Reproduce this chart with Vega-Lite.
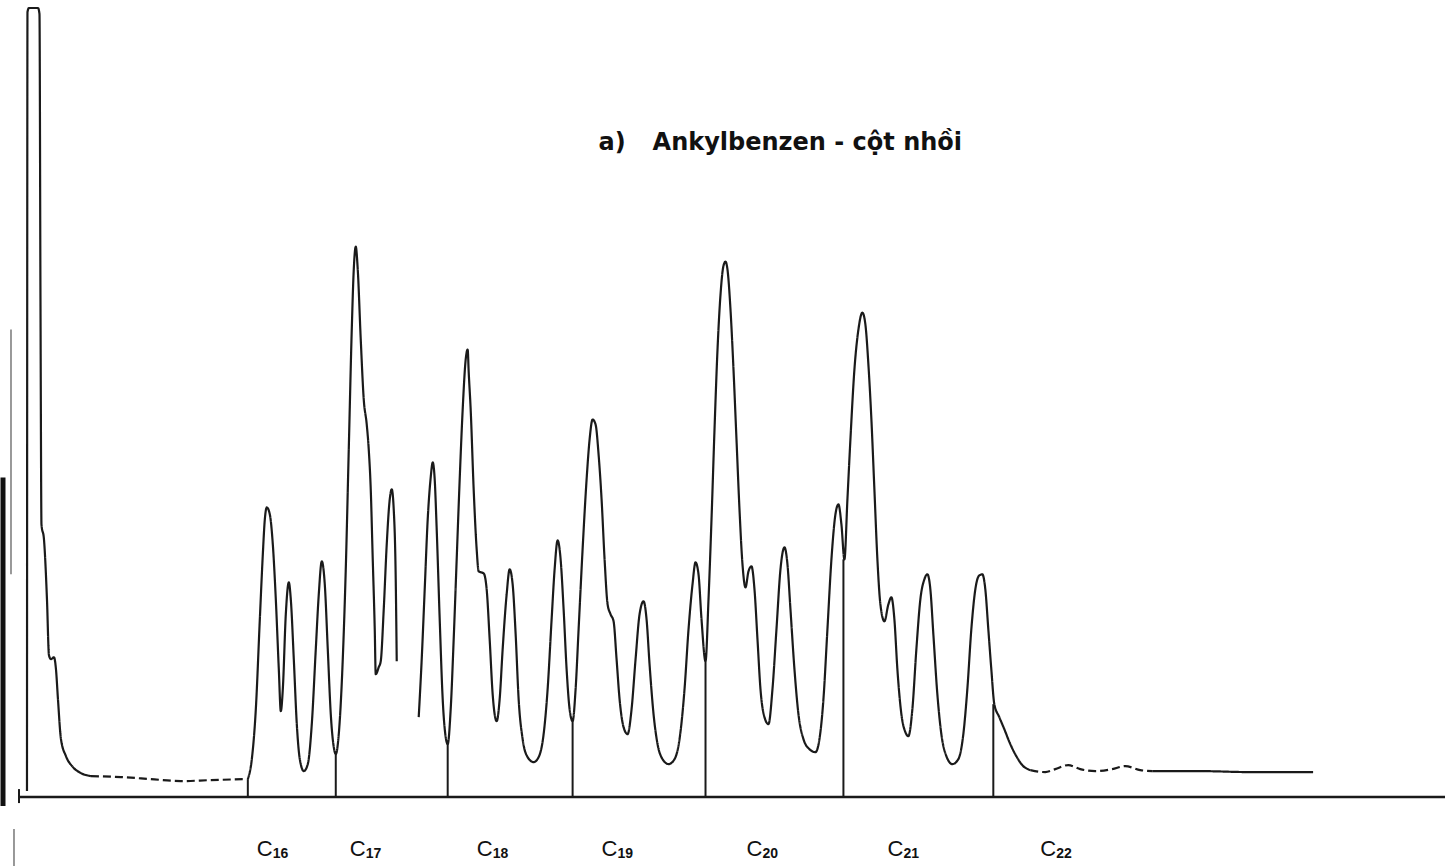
{
  "$schema": "https://vega.github.io/schema/vega-lite/v6.json",
  "width": 1455,
  "height": 867,
  "autosize": {"type": "fit", "contains": "padding"},
  "padding": 0,
  "background": "white",
  "config": {"view": {"stroke": null}},
  "datasets": {
    "trace": [
      {"seg": "solvent", "pen": "solid", "t": 26, "s": 6},
      {"seg": "solvent", "pen": "solid", "t": 26.5, "s": 786},
      {"seg": "solvent", "pen": "solid", "t": 28, "s": 790},
      {"seg": "solvent", "pen": "solid", "t": 37, "s": 790},
      {"seg": "solvent", "pen": "solid", "t": 38.5, "s": 784},
      {"seg": "solvent", "pen": "solid", "t": 39.5, "s": 498},
      {"seg": "solvent", "pen": "solid", "t": 40.5, "s": 273},
      {"seg": "solvent", "pen": "solid", "t": 43, "s": 258},
      {"seg": "solvent", "pen": "solid", "t": 46, "s": 198},
      {"seg": "solvent", "pen": "solid", "t": 48, "s": 142},
      {"seg": "solvent", "pen": "solid", "t": 50, "s": 138},
      {"seg": "solvent", "pen": "solid", "t": 53, "s": 140},
      {"seg": "solvent", "pen": "solid", "t": 55, "s": 128},
      {"seg": "solvent", "pen": "solid", "t": 57, "s": 98},
      {"seg": "solvent", "pen": "solid", "t": 60, "s": 58},
      {"seg": "solvent", "pen": "solid", "t": 65, "s": 41},
      {"seg": "solvent", "pen": "solid", "t": 72, "s": 30},
      {"seg": "solvent", "pen": "solid", "t": 80, "s": 24},
      {"seg": "solvent", "pen": "solid", "t": 90, "s": 21},
      {"seg": "base1", "pen": "dashed", "t": 90, "s": 21},
      {"seg": "base1", "pen": "dashed", "t": 120, "s": 20},
      {"seg": "base1", "pen": "dashed", "t": 150, "s": 18},
      {"seg": "base1", "pen": "dashed", "t": 180, "s": 16},
      {"seg": "base1", "pen": "dashed", "t": 210, "s": 17},
      {"seg": "base1", "pen": "dashed", "t": 245, "s": 18},
      {"seg": "p1", "pen": "solid", "t": 247, "s": 18},
      {"seg": "p1", "pen": "solid", "t": 251, "s": 38},
      {"seg": "p1", "pen": "solid", "t": 255, "s": 88},
      {"seg": "p1", "pen": "solid", "t": 259, "s": 178},
      {"seg": "p1", "pen": "solid", "t": 262, "s": 243},
      {"seg": "p1", "pen": "solid", "t": 264, "s": 278},
      {"seg": "p1", "pen": "solid", "t": 266, "s": 290},
      {"seg": "p1", "pen": "solid", "t": 269, "s": 283},
      {"seg": "p1", "pen": "solid", "t": 272, "s": 253},
      {"seg": "p1", "pen": "solid", "t": 275, "s": 198},
      {"seg": "p1", "pen": "solid", "t": 278, "s": 128},
      {"seg": "p1", "pen": "solid", "t": 280, "s": 86},
      {"seg": "p1", "pen": "solid", "t": 282, "s": 108},
      {"seg": "p1", "pen": "solid", "t": 285, "s": 183},
      {"seg": "p1", "pen": "solid", "t": 288, "s": 215},
      {"seg": "p1", "pen": "solid", "t": 290, "s": 198},
      {"seg": "p1", "pen": "solid", "t": 293, "s": 138},
      {"seg": "p1", "pen": "solid", "t": 296, "s": 73},
      {"seg": "p1", "pen": "solid", "t": 299, "s": 38},
      {"seg": "p1", "pen": "solid", "t": 303, "s": 26},
      {"seg": "p1", "pen": "solid", "t": 307, "s": 33},
      {"seg": "p1", "pen": "solid", "t": 311, "s": 73},
      {"seg": "p1", "pen": "solid", "t": 315, "s": 148},
      {"seg": "p1", "pen": "solid", "t": 318, "s": 203},
      {"seg": "p1", "pen": "solid", "t": 321, "s": 236},
      {"seg": "p1", "pen": "solid", "t": 324, "s": 213},
      {"seg": "p1", "pen": "solid", "t": 327, "s": 148},
      {"seg": "p1", "pen": "solid", "t": 330, "s": 83},
      {"seg": "p1", "pen": "solid", "t": 333, "s": 50},
      {"seg": "p1", "pen": "solid", "t": 335, "s": 43},
      {"seg": "p1", "pen": "solid", "t": 338, "s": 63},
      {"seg": "p1", "pen": "solid", "t": 342, "s": 138},
      {"seg": "p1", "pen": "solid", "t": 345, "s": 228},
      {"seg": "p1", "pen": "solid", "t": 348, "s": 348},
      {"seg": "p1", "pen": "solid", "t": 351, "s": 468},
      {"seg": "p1", "pen": "solid", "t": 353, "s": 528},
      {"seg": "p1", "pen": "solid", "t": 355, "s": 551},
      {"seg": "p1", "pen": "solid", "t": 357, "s": 528},
      {"seg": "p1", "pen": "solid", "t": 360, "s": 458},
      {"seg": "p1", "pen": "solid", "t": 363, "s": 398},
      {"seg": "p1", "pen": "solid", "t": 366, "s": 373},
      {"seg": "p1", "pen": "solid", "t": 368, "s": 348},
      {"seg": "p1", "pen": "solid", "t": 370, "s": 308},
      {"seg": "p1", "pen": "solid", "t": 372, "s": 238},
      {"seg": "p1", "pen": "solid", "t": 374, "s": 168},
      {"seg": "p1", "pen": "solid", "t": 375, "s": 123},
      {"seg": "p1", "pen": "solid", "t": 378, "s": 130},
      {"seg": "p1", "pen": "solid", "t": 380, "s": 136},
      {"seg": "p1", "pen": "solid", "t": 383, "s": 188},
      {"seg": "p1", "pen": "solid", "t": 386, "s": 253},
      {"seg": "p1", "pen": "solid", "t": 389, "s": 298},
      {"seg": "p1", "pen": "solid", "t": 391, "s": 308},
      {"seg": "p1", "pen": "solid", "t": 393, "s": 288},
      {"seg": "p1", "pen": "solid", "t": 395, "s": 218},
      {"seg": "p1", "pen": "solid", "t": 396, "s": 136},
      {"seg": "p2", "pen": "solid", "t": 418, "s": 80},
      {"seg": "p2", "pen": "solid", "t": 421, "s": 138},
      {"seg": "p2", "pen": "solid", "t": 424, "s": 208},
      {"seg": "p2", "pen": "solid", "t": 427, "s": 278},
      {"seg": "p2", "pen": "solid", "t": 430, "s": 320},
      {"seg": "p2", "pen": "solid", "t": 432, "s": 335},
      {"seg": "p2", "pen": "solid", "t": 434, "s": 318},
      {"seg": "p2", "pen": "solid", "t": 436, "s": 268},
      {"seg": "p2", "pen": "solid", "t": 439, "s": 178},
      {"seg": "p2", "pen": "solid", "t": 442, "s": 98},
      {"seg": "p2", "pen": "solid", "t": 445, "s": 60},
      {"seg": "p2", "pen": "solid", "t": 447, "s": 53},
      {"seg": "p2", "pen": "solid", "t": 450, "s": 88},
      {"seg": "p2", "pen": "solid", "t": 453, "s": 158},
      {"seg": "p2", "pen": "solid", "t": 456, "s": 238},
      {"seg": "p2", "pen": "solid", "t": 459, "s": 318},
      {"seg": "p2", "pen": "solid", "t": 462, "s": 388},
      {"seg": "p2", "pen": "solid", "t": 465, "s": 438},
      {"seg": "p2", "pen": "solid", "t": 467, "s": 448},
      {"seg": "p2", "pen": "solid", "t": 468, "s": 426},
      {"seg": "p2", "pen": "solid", "t": 470, "s": 388},
      {"seg": "p2", "pen": "solid", "t": 473, "s": 308},
      {"seg": "p2", "pen": "solid", "t": 476, "s": 248},
      {"seg": "p2", "pen": "solid", "t": 478, "s": 226},
      {"seg": "p2", "pen": "solid", "t": 483, "s": 224},
      {"seg": "p2", "pen": "solid", "t": 486, "s": 208},
      {"seg": "p2", "pen": "solid", "t": 489, "s": 158},
      {"seg": "p2", "pen": "solid", "t": 492, "s": 103},
      {"seg": "p2", "pen": "solid", "t": 496, "s": 76},
      {"seg": "p2", "pen": "solid", "t": 499, "s": 98},
      {"seg": "p2", "pen": "solid", "t": 502, "s": 148},
      {"seg": "p2", "pen": "solid", "t": 506, "s": 203},
      {"seg": "p2", "pen": "solid", "t": 509, "s": 228},
      {"seg": "p2", "pen": "solid", "t": 512, "s": 213},
      {"seg": "p2", "pen": "solid", "t": 515, "s": 163},
      {"seg": "p2", "pen": "solid", "t": 518, "s": 98},
      {"seg": "p2", "pen": "solid", "t": 522, "s": 58},
      {"seg": "p2", "pen": "solid", "t": 527, "s": 40},
      {"seg": "p2", "pen": "solid", "t": 533, "s": 35},
      {"seg": "p2", "pen": "solid", "t": 538, "s": 40},
      {"seg": "p2", "pen": "solid", "t": 543, "s": 63},
      {"seg": "p2", "pen": "solid", "t": 547, "s": 108},
      {"seg": "p2", "pen": "solid", "t": 551, "s": 178},
      {"seg": "p2", "pen": "solid", "t": 554, "s": 228},
      {"seg": "p2", "pen": "solid", "t": 557, "s": 257},
      {"seg": "p2", "pen": "solid", "t": 560, "s": 238},
      {"seg": "p2", "pen": "solid", "t": 563, "s": 188},
      {"seg": "p2", "pen": "solid", "t": 566, "s": 128},
      {"seg": "p2", "pen": "solid", "t": 569, "s": 88},
      {"seg": "p2", "pen": "solid", "t": 572, "s": 76},
      {"seg": "p2", "pen": "solid", "t": 575, "s": 108},
      {"seg": "p2", "pen": "solid", "t": 578, "s": 168},
      {"seg": "p2", "pen": "solid", "t": 582, "s": 248},
      {"seg": "p2", "pen": "solid", "t": 586, "s": 318},
      {"seg": "p2", "pen": "solid", "t": 589, "s": 358},
      {"seg": "p2", "pen": "solid", "t": 592, "s": 378},
      {"seg": "p2", "pen": "solid", "t": 595, "s": 373},
      {"seg": "p2", "pen": "solid", "t": 598, "s": 343},
      {"seg": "p2", "pen": "solid", "t": 601, "s": 298},
      {"seg": "p2", "pen": "solid", "t": 604, "s": 238},
      {"seg": "p2", "pen": "solid", "t": 607, "s": 193},
      {"seg": "p2", "pen": "solid", "t": 610, "s": 183},
      {"seg": "p2", "pen": "solid", "t": 613, "s": 176},
      {"seg": "p2", "pen": "solid", "t": 616, "s": 138},
      {"seg": "p2", "pen": "solid", "t": 619, "s": 98},
      {"seg": "p2", "pen": "solid", "t": 623, "s": 70},
      {"seg": "p2", "pen": "solid", "t": 627, "s": 63},
      {"seg": "p2", "pen": "solid", "t": 631, "s": 88},
      {"seg": "p2", "pen": "solid", "t": 635, "s": 138},
      {"seg": "p2", "pen": "solid", "t": 639, "s": 183},
      {"seg": "p2", "pen": "solid", "t": 643, "s": 196},
      {"seg": "p2", "pen": "solid", "t": 646, "s": 178},
      {"seg": "p2", "pen": "solid", "t": 649, "s": 133},
      {"seg": "p2", "pen": "solid", "t": 653, "s": 83},
      {"seg": "p2", "pen": "solid", "t": 657, "s": 53},
      {"seg": "p2", "pen": "solid", "t": 662, "s": 38},
      {"seg": "p2", "pen": "solid", "t": 668, "s": 33},
      {"seg": "p2", "pen": "solid", "t": 674, "s": 38},
      {"seg": "p2", "pen": "solid", "t": 679, "s": 58},
      {"seg": "p2", "pen": "solid", "t": 684, "s": 108},
      {"seg": "p2", "pen": "solid", "t": 688, "s": 168},
      {"seg": "p2", "pen": "solid", "t": 692, "s": 213},
      {"seg": "p2", "pen": "solid", "t": 695, "s": 235},
      {"seg": "p2", "pen": "solid", "t": 698, "s": 223},
      {"seg": "p2", "pen": "solid", "t": 701, "s": 178},
      {"seg": "p2", "pen": "solid", "t": 705, "s": 136},
      {"seg": "p2", "pen": "solid", "t": 708, "s": 198},
      {"seg": "p2", "pen": "solid", "t": 711, "s": 278},
      {"seg": "p2", "pen": "solid", "t": 714, "s": 368},
      {"seg": "p2", "pen": "solid", "t": 717, "s": 448},
      {"seg": "p2", "pen": "solid", "t": 720, "s": 503},
      {"seg": "p2", "pen": "solid", "t": 723, "s": 532},
      {"seg": "p2", "pen": "solid", "t": 725, "s": 536},
      {"seg": "p2", "pen": "solid", "t": 727, "s": 528},
      {"seg": "p2", "pen": "solid", "t": 730, "s": 488},
      {"seg": "p2", "pen": "solid", "t": 733, "s": 428},
      {"seg": "p2", "pen": "solid", "t": 736, "s": 358},
      {"seg": "p2", "pen": "solid", "t": 739, "s": 288},
      {"seg": "p2", "pen": "solid", "t": 742, "s": 233},
      {"seg": "p2", "pen": "solid", "t": 745, "s": 210},
      {"seg": "p2", "pen": "solid", "t": 748, "s": 226},
      {"seg": "p2", "pen": "solid", "t": 751, "s": 231},
      {"seg": "p2", "pen": "solid", "t": 754, "s": 208},
      {"seg": "p2", "pen": "solid", "t": 757, "s": 158},
      {"seg": "p2", "pen": "solid", "t": 760, "s": 108},
      {"seg": "p2", "pen": "solid", "t": 764, "s": 80},
      {"seg": "p2", "pen": "solid", "t": 768, "s": 73},
      {"seg": "p2", "pen": "solid", "t": 772, "s": 108},
      {"seg": "p2", "pen": "solid", "t": 776, "s": 168},
      {"seg": "p2", "pen": "solid", "t": 780, "s": 228},
      {"seg": "p2", "pen": "solid", "t": 784, "s": 250},
      {"seg": "p2", "pen": "solid", "t": 787, "s": 233},
      {"seg": "p2", "pen": "solid", "t": 790, "s": 188},
      {"seg": "p2", "pen": "solid", "t": 794, "s": 128},
      {"seg": "p2", "pen": "solid", "t": 798, "s": 83},
      {"seg": "p2", "pen": "solid", "t": 803, "s": 58},
      {"seg": "p2", "pen": "solid", "t": 809, "s": 48},
      {"seg": "p2", "pen": "solid", "t": 815, "s": 45},
      {"seg": "p2", "pen": "solid", "t": 819, "s": 58},
      {"seg": "p2", "pen": "solid", "t": 823, "s": 98},
      {"seg": "p2", "pen": "solid", "t": 827, "s": 168},
      {"seg": "p2", "pen": "solid", "t": 831, "s": 238},
      {"seg": "p2", "pen": "solid", "t": 835, "s": 283},
      {"seg": "p2", "pen": "solid", "t": 838, "s": 293},
      {"seg": "p2", "pen": "solid", "t": 841, "s": 273},
      {"seg": "p2", "pen": "solid", "t": 844, "s": 238},
      {"seg": "p2", "pen": "solid", "t": 847, "s": 298},
      {"seg": "p2", "pen": "solid", "t": 850, "s": 358},
      {"seg": "p2", "pen": "solid", "t": 854, "s": 428},
      {"seg": "p2", "pen": "solid", "t": 858, "s": 468},
      {"seg": "p2", "pen": "solid", "t": 862, "s": 485},
      {"seg": "p2", "pen": "solid", "t": 865, "s": 473},
      {"seg": "p2", "pen": "solid", "t": 868, "s": 433},
      {"seg": "p2", "pen": "solid", "t": 871, "s": 378},
      {"seg": "p2", "pen": "solid", "t": 874, "s": 308},
      {"seg": "p2", "pen": "solid", "t": 877, "s": 238},
      {"seg": "p2", "pen": "solid", "t": 880, "s": 193},
      {"seg": "p2", "pen": "solid", "t": 884, "s": 176},
      {"seg": "p2", "pen": "solid", "t": 888, "s": 193},
      {"seg": "p2", "pen": "solid", "t": 891, "s": 200},
      {"seg": "p2", "pen": "solid", "t": 894, "s": 178},
      {"seg": "p2", "pen": "solid", "t": 897, "s": 128},
      {"seg": "p2", "pen": "solid", "t": 901, "s": 83},
      {"seg": "p2", "pen": "solid", "t": 905, "s": 65},
      {"seg": "p2", "pen": "solid", "t": 908, "s": 61},
      {"seg": "p2", "pen": "solid", "t": 912, "s": 88},
      {"seg": "p2", "pen": "solid", "t": 916, "s": 148},
      {"seg": "p2", "pen": "solid", "t": 920, "s": 198},
      {"seg": "p2", "pen": "solid", "t": 924, "s": 218},
      {"seg": "p2", "pen": "solid", "t": 927, "s": 223},
      {"seg": "p2", "pen": "solid", "t": 930, "s": 208},
      {"seg": "p2", "pen": "solid", "t": 933, "s": 163},
      {"seg": "p2", "pen": "solid", "t": 937, "s": 103},
      {"seg": "p2", "pen": "solid", "t": 941, "s": 63},
      {"seg": "p2", "pen": "solid", "t": 946, "s": 41},
      {"seg": "p2", "pen": "solid", "t": 952, "s": 33},
      {"seg": "p2", "pen": "solid", "t": 958, "s": 38},
      {"seg": "p2", "pen": "solid", "t": 963, "s": 63},
      {"seg": "p2", "pen": "solid", "t": 967, "s": 108},
      {"seg": "p2", "pen": "solid", "t": 971, "s": 168},
      {"seg": "p2", "pen": "solid", "t": 975, "s": 208},
      {"seg": "p2", "pen": "solid", "t": 979, "s": 222},
      {"seg": "p2", "pen": "solid", "t": 982, "s": 223},
      {"seg": "p2", "pen": "solid", "t": 985, "s": 208},
      {"seg": "p2", "pen": "solid", "t": 988, "s": 168},
      {"seg": "p2", "pen": "solid", "t": 991, "s": 128},
      {"seg": "p2", "pen": "solid", "t": 994, "s": 93},
      {"seg": "p2", "pen": "solid", "t": 999, "s": 80},
      {"seg": "p2", "pen": "solid", "t": 1004, "s": 68},
      {"seg": "p2", "pen": "solid", "t": 1010, "s": 53},
      {"seg": "p2", "pen": "solid", "t": 1016, "s": 41},
      {"seg": "p2", "pen": "solid", "t": 1022, "s": 32},
      {"seg": "p2", "pen": "solid", "t": 1030, "s": 27},
      {"seg": "tail", "pen": "dashed", "t": 1030, "s": 27},
      {"seg": "tail", "pen": "dashed", "t": 1045, "s": 25},
      {"seg": "tail", "pen": "dashed", "t": 1055, "s": 28},
      {"seg": "tail", "pen": "dashed", "t": 1068, "s": 32},
      {"seg": "tail", "pen": "dashed", "t": 1080, "s": 28},
      {"seg": "tail", "pen": "dashed", "t": 1095, "s": 26},
      {"seg": "tail", "pen": "dashed", "t": 1112, "s": 28},
      {"seg": "tail", "pen": "dashed", "t": 1125, "s": 31},
      {"seg": "tail", "pen": "dashed", "t": 1140, "s": 27},
      {"seg": "tail", "pen": "dashed", "t": 1152, "s": 26},
      {"seg": "tail2", "pen": "solid", "t": 1152, "s": 26},
      {"seg": "tail2", "pen": "solid", "t": 1200, "s": 26},
      {"seg": "tail2", "pen": "solid", "t": 1250, "s": 25},
      {"seg": "tail2", "pen": "solid", "t": 1313, "s": 25}
    ],
    "drops": [
      {"t": 247, "s": 0, "s2": 18},
      {"t": 335, "s": 0, "s2": 43},
      {"t": 447, "s": 0, "s2": 53},
      {"t": 572, "s": 0, "s2": 76},
      {"t": 705, "s": 0, "s2": 136},
      {"t": 843, "s": 0, "s2": 238},
      {"t": 993, "s": 0, "s2": 93},
      {"t": 18, "s": -6, "s2": 8}
    ],
    "axisline": [
      {"t": 18, "s": 0, "t2": 1445}
    ],
    "labels": [
      {"t": 256, "s": -52, "n": "16"},
      {"t": 349, "s": -52, "n": "17"},
      {"t": 476, "s": -52, "n": "18"},
      {"t": 601, "s": -52, "n": "19"},
      {"t": 746, "s": -52, "n": "20"},
      {"t": 887, "s": -52, "n": "21"},
      {"t": 1040, "s": -52, "n": "22"}
    ],
    "title": [
      {"t": 598, "s": 655, "word": "a)"},
      {"t": 652, "s": 655, "word": "Ankylbenzen - cột nhồi"}
    ],
    "edge": [
      {"t": 2, "s": 320, "s2": -9}
    ],
    "pen": [
      {"t": 10, "s": 468, "s2": 223},
      {"t": 13, "s": -32, "s2": -69}
    ]
  },
  "layer": [
    {
      "data": {"name": "edge"},
      "mark": {"type": "rule", "strokeWidth": 5, "color": "#111"},
      "encoding": {
        "x": {"field": "t", "type": "quantitative", "scale": {"domain": [0, 1455]}, "axis": null},
        "y": {"field": "s", "type": "quantitative", "scale": {"domain": [-69, 798]}, "axis": null},
        "y2": {"field": "s2"}
      }
    },
    {
      "data": {"name": "pen"},
      "mark": {"type": "rule", "strokeWidth": 1.5, "color": "#777"},
      "encoding": {
        "x": {"field": "t", "type": "quantitative", "scale": {"domain": [0, 1455]}, "axis": null},
        "y": {"field": "s", "type": "quantitative", "scale": {"domain": [-69, 798]}, "axis": null},
        "y2": {"field": "s2"}
      }
    },
    {
      "data": {"name": "axisline"},
      "mark": {"type": "rule", "strokeWidth": 2.5, "color": "#1a1a1a"},
      "encoding": {
        "x": {"field": "t", "type": "quantitative", "scale": {"domain": [0, 1455]}, "axis": null},
        "x2": {"field": "t2"},
        "y": {"field": "s", "type": "quantitative", "scale": {"domain": [-69, 798]}, "axis": null}
      }
    },
    {
      "data": {"name": "drops"},
      "mark": {"type": "rule", "strokeWidth": 2, "color": "#1a1a1a"},
      "encoding": {
        "x": {"field": "t", "type": "quantitative", "scale": {"domain": [0, 1455]}, "axis": null},
        "y": {"field": "s", "type": "quantitative", "scale": {"domain": [-69, 798]}, "axis": null},
        "y2": {"field": "s2"}
      }
    },
    {
      "data": {"name": "trace"},
      "mark": {"type": "line", "strokeWidth": 2.2, "color": "#1a1a1a", "strokeJoin": "round", "interpolate": "monotone"},
      "encoding": {
        "x": {"field": "t", "type": "quantitative", "scale": {"domain": [0, 1455]}, "axis": null},
        "y": {"field": "s", "type": "quantitative", "scale": {"domain": [-69, 798]}, "axis": null},
        "detail": {"field": "seg", "type": "nominal"},
        "strokeDash": {"field": "pen", "type": "nominal", "scale": {"domain": ["solid", "dashed"], "range": [[1, 0], [8, 4]]}, "legend": null}
      }
    },
    {
      "data": {"name": "labels"},
      "mark": {"type": "text", "font": "Liberation Sans", "fontSize": 22, "color": "#111", "align": "left", "baseline": "middle"},
      "encoding": {
        "x": {"field": "t", "type": "quantitative", "scale": {"domain": [0, 1455]}, "axis": null},
        "y": {"field": "s", "type": "quantitative", "scale": {"domain": [-69, 798]}, "axis": null},
        "text": {"value": "C"}
      }
    },
    {
      "data": {"name": "labels"},
      "mark": {"type": "text", "font": "Liberation Sans", "fontSize": 14, "fontWeight": "bold", "color": "#111", "align": "left", "baseline": "middle", "dx": 16, "dy": 5},
      "encoding": {
        "x": {"field": "t", "type": "quantitative", "scale": {"domain": [0, 1455]}, "axis": null},
        "y": {"field": "s", "type": "quantitative", "scale": {"domain": [-69, 798]}, "axis": null},
        "text": {"field": "n"}
      }
    },
    {
      "data": {"name": "title"},
      "mark": {"type": "text", "font": "DejaVu Sans", "fontSize": 24, "fontWeight": "bold", "color": "#111", "align": "left", "baseline": "middle"},
      "encoding": {
        "x": {"field": "t", "type": "quantitative", "scale": {"domain": [0, 1455]}, "axis": null},
        "y": {"field": "s", "type": "quantitative", "scale": {"domain": [-69, 798]}, "axis": null},
        "text": {"field": "word"}
      }
    }
  ]
}
